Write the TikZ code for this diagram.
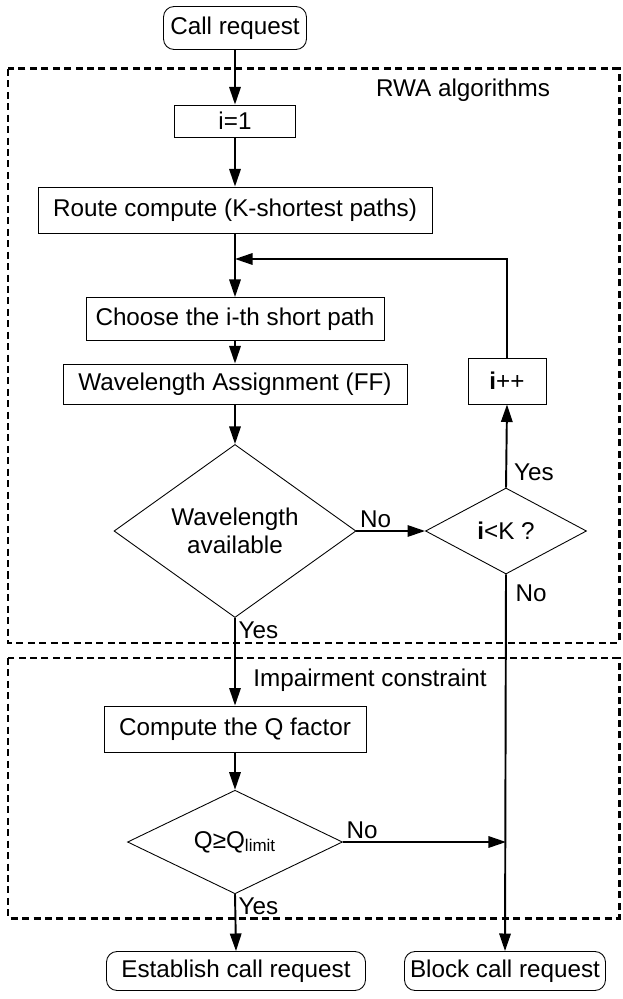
\documentclass[tikz,border=0pt]{standalone}
\usepackage{fontspec}
\setmainfont{Liberation Sans}
\usetikzlibrary{arrows.meta,shapes.geometric}

\begin{document}
\begin{tikzpicture}[x=0.02cm,y=-0.02cm,->,>={Triangle[length=10pt,width=6.5pt]},line width=1.1pt,font=\fontsize{13.8}{16}\selectfont,
  proc node/.style={rectangle,draw,line width=0.5pt,inner sep=0pt},
  end node/.style={proc node,rounded corners=6pt},
  dec node/.style={diamond,draw,line width=0.5pt,inner sep=0pt,align=center},
  group box/.style={draw,-,line width=1.7pt,dash pattern=on 4pt off 2.5pt}]

  \useasboundingbox (0,0) rectangle (622,999);

  % the two dashed groups
  \draw[group box] (8,69) rectangle (619,643);
  \draw[group box] (8,658) rectangle (619,918);
  \node[inner sep=0pt] (rwa) at (463,90) {RWA algorithms};
  \node[inner sep=0pt] (imp) at (370,680) {Impairment constraint};

  \node[end node,minimum width=2.86cm,minimum height=0.86cm] (call) at (235,28) {Call request};
  \node[proc node,minimum width=2.42cm,minimum height=0.64cm] (init) at (235,121) {i=1};
  \node[proc node,minimum width=7.88cm,minimum height=0.92cm] (route) at (235,210) {Route compute (K-shortest paths)};
  \coordinate (join) at (235,259);
  \node[proc node,minimum width=5.96cm,minimum height=0.86cm] (choose) at (235,319) {Choose the i-th short path};
  \node[proc node,minimum width=6.88cm,minimum height=0.8cm] (assign) at (235,384) {Wavelength Assignment (FF)};
  \node[dec node,minimum width=4.84cm,minimum height=2.6cm] (avail) at (235,531) {Wavelength\\available};
  \node[dec node,minimum width=3.22cm,minimum height=1.72cm] (less) at (506,531) {\textbf{i}<K ?};
  \node[proc node,minimum width=1.56cm,minimum height=0.92cm] (inc) at (507,381) {\textbf{i}++};
  \node[proc node,minimum width=5.24cm,minimum height=0.92cm] (qfac) at (235,729) {Compute the Q factor};
  \node[dec node,minimum width=4.3cm,minimum height=1.6cm] (qtest) at (235,842) {Q≥Q\textsubscript{limit}};
  \coordinate (merge) at (less.south |- qtest.east);
  \node[end node,minimum width=5.18cm,minimum height=0.78cm] (est) at (236,971) {Establish call request};
  \node[end node,minimum width=4.02cm,minimum height=0.78cm] (blk) at (505,971) {Block call request};

  \path[every node/.style={inner sep=1.5pt}]
       (call) edge (init)
       (init) edge (route)
       (route) edge (choose)
       (choose) edge (assign)
       (assign) edge (avail)
       (avail.east) edge node[pos=0,above right] {No} (less.west)
       (less.north) edge node[pos=0.18,right,inner sep=4pt] {Yes} (inc.south)
       (less.south) edge node[pos=0.05,right,inner sep=5pt] {No} (blk.north)
       (avail.south) edge node[pos=0,below right] {Yes} (qfac.north)
       (qfac) edge (qtest)
       (qtest.east) edge node[pos=0,above right] {No} (merge)
       (qtest.south) edge node[pos=0,below right] {Yes} (est.north);

  \draw (inc.north) |- (join);
\end{tikzpicture}
\end{document}
